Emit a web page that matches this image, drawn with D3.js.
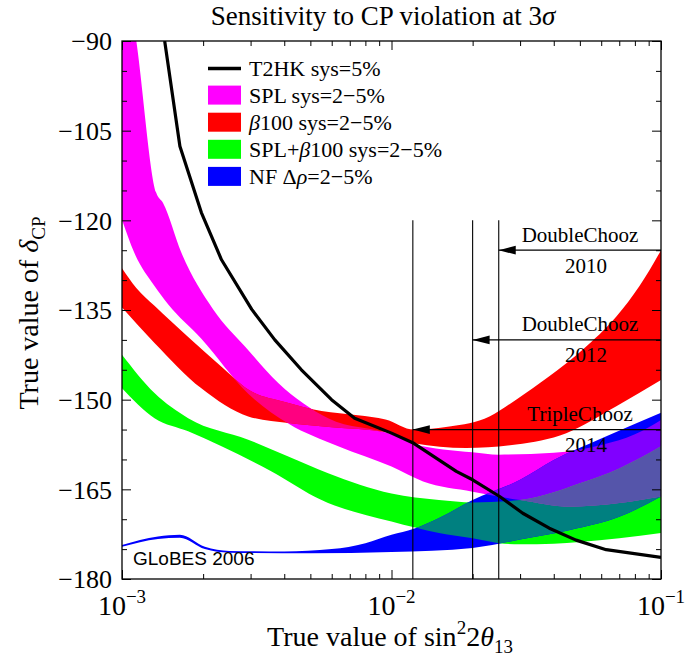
<!DOCTYPE html>
<html><head><meta charset="utf-8">
<script src="https://cdn.jsdelivr.net/npm/d3@7"></script>
<style>
body{margin:0;background:#fff}
svg text{font-family:"Liberation Serif","Times New Roman",serif;fill:#000}
</style>
</head><body>
<svg id="c" width="686" height="663"></svg>
<script>
// ---------------- data ----------------
const xTickValues = [1e-3, 1e-2, 1e-1];
const xTickExponents = ["\u22123", "\u22122", "\u22121"];
const yTickValues = [-90, -105, -120, -135, -150, -165, -180];
const yTickLabels = ["\u221290", "\u2212105", "\u2212120", "\u2212135", "\u2212150", "\u2212165", "\u2212180"];

const t2hk = [[0.00144,-90],[0.00164,-107.6],[0.00197,-118.7],[0.00234,-126.6],[0.00303,-134.9],[0.00369,-140],[0.00463,-145],[0.00599,-150],[0.0073,-153.1],[0.01,-155.6],[0.0121,-157.3],[0.0174,-162],[0.02,-163.4],[0.0252,-166.2],[0.0307,-169],[0.0385,-171.5],[0.0484,-173.5],[0.0626,-175.1],[0.1,-176.4]];

const splUpper = [[0.001,-75],[0.00113,-90],[0.00134,-115.4],[0.00142,-117.1],[0.00166,-125.4],[0.00218,-134.9],[0.00286,-141.1],[0.0038,-147.2],[0.00582,-153.1],[0.01,-155.8],[0.0121,-157.4],[0.02,-158.8],[0.025,-159.2],[0.04,-158.9],[0.06,-157.6],[0.08,-155.8],[0.1,-153.4]];
const splLower = [[0.001,-119.9],[0.00111,-125.4],[0.00132,-131],[0.00148,-134],[0.00197,-139.8],[0.00294,-149],[0.00414,-154],[0.00634,-157.8],[0.01,-161.2],[0.0131,-163.7],[0.02,-165.4],[0.03,-166.8],[0.046,-167.9],[0.07,-167.3],[0.1,-166.2]];

const betaUpper = [[0.001,-128],[0.00113,-131.3],[0.00132,-134.3],[0.00176,-139.5],[0.00234,-144.5],[0.00294,-148.3],[0.00402,-150.4],[0.0055,-151.9],[0.0075,-152.6],[0.0095,-153.3],[0.0121,-155],[0.0164,-154.5],[0.0231,-152.8],[0.029,-150],[0.0385,-146.1],[0.0513,-141.6],[0.0683,-136.1],[0.0832,-131],[0.1,-125]];
const betaLower = [[0.001,-134.6],[0.00132,-140.5],[0.00197,-148.1],[0.00294,-152.8],[0.00414,-153.9],[0.006,-154.6],[0.0095,-155.4],[0.0121,-157.3],[0.0189,-158.1],[0.029,-157.5],[0.0445,-155.6],[0.0683,-151.1],[0.1,-146.7]];

const comboUpper = [[0.001,-142.5],[0.00132,-148.9],[0.00176,-153.1],[0.00294,-156.7],[0.00414,-159.5],[0.00582,-162.3],[0.01,-165.7],[0.015,-166.8],[0.02,-167.2],[0.03,-166.8],[0.04,-165.5],[0.05,-164],[0.07,-161.5],[0.1,-157.8]];
const comboLower = [[0.001,-148.1],[0.00132,-153.1],[0.00176,-155.3],[0.00234,-157.8],[0.00359,-162],[0.0055,-166.8],[0.01,-170.4],[0.015,-172.3],[0.02,-173.2],[0.025,-174],[0.03,-174.2],[0.04,-174.1],[0.05,-173.8],[0.07,-173.2],[0.1,-172.3]];

const nfUpper = [[0.001,-174.3],[0.00136,-172.9],[0.00164,-172.6],[0.00203,-174.6],[0.0025,-175.3],[0.004,-175.4],[0.006,-175],[0.008,-174],[0.01,-172.6],[0.0121,-171.6],[0.015,-169.8],[0.02,-166.8],[0.03,-163.4],[0.04,-160.1],[0.06,-156.5],[0.1,-152.2]];
const nfLower = [[0.001,-174.6],[0.00136,-173.3],[0.00164,-173.1],[0.00203,-175],[0.0025,-175.6],[0.005,-175.7],[0.01,-175.5],[0.02,-174.8],[0.025,-174.1],[0.03,-173.4],[0.046,-171.8],[0.07,-169.6],[0.1,-166.2]];

const legendLabels = ["T2HK sys=5%", "SPL sys=2\u22125%", "\u03b2100 sys=2\u22125%", "SPL+\u03b2100 sys=2\u22125%", "NF \u0394\u03c1=2\u22125%"];
const legendColors = ["#000000", "#ff00ff", "#ff0000", "#00ff00", "#0000ff"];

const reactorX = [0.025, 0.02, 0.012];
const reactorY = [-125, -140, -155];
const reactorName = ["DoubleChooz", "DoubleChooz", "TripleChooz"];
const reactorYear = ["2010", "2012", "2014"];
const reactorLineTop = -120;

// ---------------- chart ----------------
const L = 122, R = 661, T = 41, B = 579;
const x = d3.scaleLog().domain([1e-3, 1e-1]).range([L, R]);
const y = d3.scaleLinear().domain([-180, -90]).range([B, T]);
const svg = d3.select("#c");
const defs = svg.append("defs");
defs.append("clipPath").attr("id", "plotclip").append("rect")
  .attr("x", L).attr("y", T).attr("width", R - L).attr("height", B - T);

const smooth = d3.line().x(d => x(d[0])).y(d => y(d[1])).curve(d3.curveMonotoneX);
const straight = d3.line().x(d => x(d[0])).y(d => y(d[1]));
function bandPath(up, lo) {
  const a = smooth(up);
  const b = smooth(lo.slice().reverse());
  return a + "L" + b.slice(1) + "Z";
}
const bands = {
  M: {d: bandPath(splUpper, splLower), c: "#ff00ff"},
  R: {d: bandPath(betaUpper, betaLower), c: "#ff0000"},
  G: {d: bandPath(comboUpper, comboLower), c: "#00ff00"},
  B: {d: bandPath(nfUpper, nfLower), c: "#0000ff"}
};
Object.entries(bands).forEach(([k, b]) => {
  defs.append("clipPath").attr("id", "clip" + k).append("path").attr("d", b.d);
});

const plot = svg.append("g").attr("clip-path", "url(#plotclip)");
["M", "R", "G", "B"].forEach(k => plot.append("path").attr("d", bands[k].d).attr("fill", bands[k].c));
const pairs = [["R", "M", "#ff0080"], ["B", "G", "#008080"], ["B", "M", "#8000ff"], ["G", "M", "#808080"]];
pairs.forEach(([a, b, c]) => {
  plot.append("g").attr("clip-path", `url(#clip${b})`)
    .append("path").attr("d", bands[a].d).attr("fill", c);
});
plot.append("g").attr("clip-path", "url(#clipG)")
  .append("g").attr("clip-path", "url(#clipM)")
  .append("path").attr("d", bands.B.d).attr("fill", "#5555aa");

// T2HK line
plot.append("path").attr("d", straight(t2hk)).attr("fill", "none")
  .attr("stroke", "#000").attr("stroke-width", 3.2).attr("stroke-linejoin", "round");

// reactor experiments
reactorX.forEach((xv, i) => {
  const px = x(xv), py = y(reactorY[i]);
  svg.append("line").attr("x1", px).attr("x2", px).attr("y1", y(reactorLineTop)).attr("y2", y(-180))
    .attr("stroke", "#000").attr("stroke-width", 1.1);
  svg.append("line").attr("x1", px).attr("x2", R).attr("y1", py).attr("y2", py)
    .attr("stroke", "#000").attr("stroke-width", 1.3);
  svg.append("path").attr("d", `M${px},${py}L${px + 17},${py - 4.4}L${px + 17},${py + 4.4}Z`).attr("fill", "#000");
  svg.append("text").attr("x", 580).attr("y", py - 8.5).attr("text-anchor", "middle")
    .attr("font-size", 21).text(reactorName[i]);
  svg.append("text").attr("x", 586).attr("y", py + 22.5).attr("text-anchor", "middle")
    .attr("font-size", 21).text(reactorYear[i]);
});

svg.append("text").attr("x", 133).attr("y", 565).attr("font-size", 19)
  .style("font-family", "'Liberation Sans', Arial, sans-serif").text("GLoBES 2006");

// axes ticks
const minorX = [];
[1e-3, 1e-2].forEach(d => { for (let k = 2; k <= 9; k++) minorX.push(k * d); });
const minorY = d3.range(-180, -89, 5).filter(v => !yTickValues.includes(v));
function clean(g) { g.select(".domain").remove(); g.selectAll("line").attr("stroke", "#000"); }
svg.append("g").attr("transform", `translate(0,${B})`).call(d3.axisBottom(x).tickValues(minorX).tickSize(-5).tickFormat("")).call(clean);
svg.append("g").attr("transform", `translate(0,${B})`).call(d3.axisBottom(x).tickValues(xTickValues).tickSize(-9).tickFormat("")).call(clean);
svg.append("g").attr("transform", `translate(0,${T})`).call(d3.axisTop(x).tickValues(minorX).tickSize(-5).tickFormat("")).call(clean);
svg.append("g").attr("transform", `translate(0,${T})`).call(d3.axisTop(x).tickValues(xTickValues).tickSize(-9).tickFormat("")).call(clean);
svg.append("g").attr("transform", `translate(${L},0)`).call(d3.axisLeft(y).tickValues(minorY).tickSize(-5).tickFormat("")).call(clean);
svg.append("g").attr("transform", `translate(${L},0)`).call(d3.axisLeft(y).tickValues(yTickValues).tickSize(-9).tickFormat("")).call(clean);
svg.append("g").attr("transform", `translate(${R},0)`).call(d3.axisRight(y).tickValues(minorY).tickSize(-5).tickFormat("")).call(clean);
svg.append("g").attr("transform", `translate(${R},0)`).call(d3.axisRight(y).tickValues(yTickValues).tickSize(-9).tickFormat("")).call(clean);

svg.append("rect").attr("x", L).attr("y", T).attr("width", R - L).attr("height", B - T)
  .attr("fill", "none").attr("stroke", "#000").attr("stroke-width", 1.3);

// tick labels
yTickValues.forEach((v, i) => {
  svg.append("text").attr("x", L - 10).attr("y", y(v)).attr("dy", "0.36em")
    .attr("text-anchor", "end").attr("font-size", 26).text(yTickLabels[i]);
});
xTickValues.forEach((v, i) => {
  const t = svg.append("text").attr("x", x(v)).attr("y", 615).attr("text-anchor", "middle").attr("font-size", 28);
  t.append("tspan").text("10");
  t.append("tspan").attr("dy", -12).attr("font-size", 19).text(xTickExponents[i]);
});

// title
const title = svg.append("text").attr("x", 383).attr("y", 25).attr("text-anchor", "middle").attr("font-size", 27);
title.append("tspan").text("Sensitivity to CP violation at 3");
title.append("tspan").attr("font-style", "italic").text("\u03c3");

// x label
const xl = svg.append("text").attr("x", 390).attr("y", 646).attr("text-anchor", "middle").attr("font-size", 28);
xl.append("tspan").text("True value of sin");
xl.append("tspan").attr("dy", -12).attr("font-size", 19).text("2");
xl.append("tspan").attr("dy", 12).text("2");
xl.append("tspan").attr("font-style", "italic").text("\u03b8");
xl.append("tspan").attr("dy", 7).attr("font-size", 19).text("13");

// y label
const yl = svg.append("text").attr("transform", "translate(38,313) rotate(-90)").attr("text-anchor", "middle").attr("font-size", 28);
yl.append("tspan").text("True value of ");
yl.append("tspan").attr("font-style", "italic").text("\u03b4");
yl.append("tspan").attr("dy", 7).attr("font-size", 19).text("CP");

// legend
function richText(sel, str) {
  const parts = str.split(/([\u03b2\u03c1])/);
  parts.forEach(p => {
    if (!p) return;
    const ts = sel.append("tspan").text(p);
    if (/[\u03b2\u03c1]/.test(p)) ts.attr("font-style", "italic");
  });
}
legendLabels.forEach((lab, i) => {
  const by = 76 + i * 27.1;
  if (i === 0) {
    svg.append("line").attr("x1", 208).attr("x2", 241).attr("y1", by - 7.5).attr("y2", by - 7.5)
      .attr("stroke", legendColors[i]).attr("stroke-width", 3.5);
  } else {
    svg.append("rect").attr("x", 208).attr("y", by - 17.5).attr("width", 33).attr("height", 19).attr("fill", legendColors[i]);
  }
  const t = svg.append("text").attr("x", 249).attr("y", by).attr("font-size", 22);
  richText(t, lab);
});
</script>
</body></html>
